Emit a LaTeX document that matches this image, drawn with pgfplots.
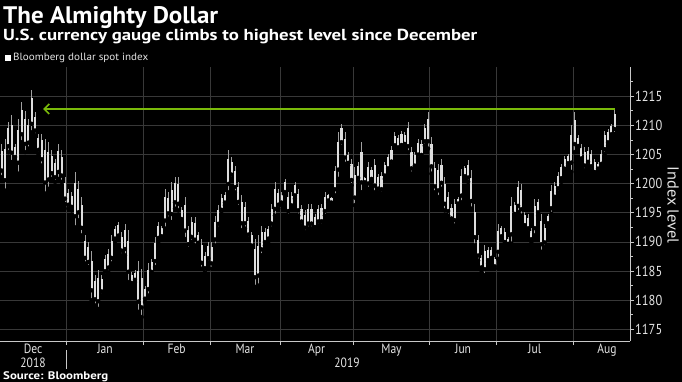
\documentclass[border=0pt]{standalone}
\usepackage{fontspec}
\setmainfont{PT Sans}[FakeStretch=0.86]
\usepackage{graphicx}
\usepackage{pgfplots}
\pgfplotsset{compat=1.18}
\usepackage{pgfplotstable}
\usetikzlibrary{arrows.meta}
\definecolor{bbgreen}{RGB}{122,186,10}
\definecolor{gridc}{RGB}{56,56,56}
\definecolor{axc}{RGB}{200,200,200}
\definecolor{txt}{RGB}{228,228,228}
\definecolor{bodyc}{RGB}{222,222,222}
\definecolor{wickc}{RGB}{160,160,160}

\pgfplotstableread{
t h l
1 1206.8 1201.1
2 1207.7 1198.8
3 1210.5 1205.4
4 1211.7 1203.7
5 1206.8 1204.0
6 1211.1 1201.7
7 1214.0 1207.1
8 1212.5 1205.4
9 1211.1 1206.0
10 1216.1 1208.8
11 1212.3 1208.3
12 1208.5 1205.1
13 1208.5 1203.1
14 1207.7 1198.3
15 1207.1 1199.1
16 1205.7 1200.8
17 1204.3 1200.3
18 1206.8 1200.8
19 1205.7 1200.3
20 1201.1 1196.5
21 1199.1 1195.7
22 1198.5 1195.4
23 1202.0 1192.5
24 1200.5 1193.7
25 1197.7 1191.1
26 1191.1 1186.3
27 1190.0 1185.7
28 1188.5 1180.0
29 1184.3 1179.1
30 1185.1 1178.5
31 1184.3 1180.8
32 1187.7 1184.3
33 1188.8 1184.8
34 1191.1 1186.3
35 1192.8 1190.0
36 1193.4 1190.5
37 1191.7 1187.7
38 1193.1 1187.7
39 1192.0 1183.1
40 1184.8 1182.5
41 1185.1 1183.1
42 1186.8 1178.0
43 1185.4 1177.1
44 1182.5 1179.7
45 1186.3 1180.8
46 1187.1 1184.3
47 1190.8 1185.7
48 1193.4 1190.0
49 1192.8 1190.5
50 1199.1 1192.3
51 1198.5 1194.0
52 1200.3 1193.4
53 1201.1 1195.7
54 1201.1 1195.4
55 1196.0 1193.4
56 1197.7 1190.5
57 1192.8 1188.8
58 1194.3 1190.0
59 1194.3 1189.4
60 1191.7 1189.4
61 1190.5 1185.4
62 1188.3 1184.8
63 1190.0 1186.5
64 1190.0 1185.4
65 1194.5 1189.4
66 1196.3 1192.3
67 1198.3 1194.8
68 1198.5 1196.3
69 1205.7 1198.5
70 1204.5 1200.8
71 1203.1 1198.5
72 1200.3 1196.0
73 1198.0 1192.0
74 1196.8 1192.3
75 1194.3 1190.5
76 1191.7 1188.8
77 1190.5 1182.3
78 1191.1 1182.5
79 1192.8 1187.7
80 1192.3 1189.4
81 1192.8 1190.0
82 1196.5 1192.3
83 1200.3 1194.5
84 1199.1 1195.7
85 1198.5 1196.3
86 1200.8 1198.0
87 1198.5 1194.5
88 1198.5 1195.7
89 1200.3 1197.4
90 1199.1 1194.5
91 1196.3 1192.8
92 1195.4 1191.7
93 1196.5 1192.3
94 1196.5 1192.3
95 1194.8 1192.0
96 1196.3 1192.8
97 1196.5 1192.8
98 1198.5 1194.5
99 1198.3 1196.8
100 1197.7 1196.5
101 1203.1 1198.0
102 1208.8 1200.8
103 1210.3 1206.3
104 1208.8 1203.4
105 1205.4 1203.1
106 1204.3 1199.7
107 1202.8 1196.3
108 1203.7 1200.3
109 1207.1 1198.5
110 1201.1 1200.0
111 1203.7 1199.1
112 1202.8 1200.3
113 1204.3 1198.5
114 1201.7 1198.5
115 1202.0 1198.3
116 1203.7 1200.8
117 1205.1 1202.0
118 1206.5 1203.1
119 1208.8 1206.0
120 1208.3 1205.7
121 1209.1 1206.0
122 1208.8 1206.3
123 1210.5 1205.4
124 1206.3 1201.7
125 1205.4 1202.5
126 1207.7 1204.3
127 1207.4 1204.3
128 1210.3 1206.5
129 1212.3 1206.0
130 1208.0 1201.7
131 1203.7 1198.5
132 1203.4 1197.7
133 1204.3 1199.1
134 1201.1 1195.4
135 1198.5 1194.5
136 1196.5 1193.4
137 1197.4 1192.8
138 1197.7 1196.3
139 1202.5 1196.8
140 1203.1 1200.8
141 1204.0 1200.3
142 1202.3 1195.7
143 1196.5 1189.4
144 1191.1 1186.8
145 1187.7 1185.1
146 1189.4 1184.3
147 1189.1 1186.3
148 1189.1 1186.8
149 1187.4 1185.4
150 1193.1 1187.1
151 1192.8 1190.5
152 1192.3 1189.4
153 1190.8 1189.4
154 1197.7 1189.7
155 1196.8 1194.3
156 1200.5 1195.1
157 1200.0 1194.5
158 1195.1 1192.3
159 1194.8 1191.7
160 1192.3 1190.0
161 1197.4 1191.1
162 1197.4 1194.5
163 1194.8 1188.3
164 1193.1 1189.1
165 1194.8 1192.8
166 1199.7 1194.8
167 1200.3 1197.1
168 1202.0 1198.5
169 1203.4 1200.3
170 1204.8 1202.0
171 1205.1 1203.1
172 1210.0 1202.0
173 1212.3 1205.4
174 1208.3 1206.0
175 1206.8 1203.7
176 1206.3 1202.3
177 1206.3 1203.1
178 1205.7 1202.3
179 1204.3 1201.4
180 1203.7 1202.3
181 1205.7 1202.8
182 1209.1 1205.1
183 1209.4 1206.5
184 1210.3 1208.0
185 1212.8 1208.5
}\bars

\begin{document}
\begin{tikzpicture}
\path[use as bounding box] (0,0) rectangle (682bp,382bp);
\fill[black] (0,0) rectangle (682bp,382bp);
\begin{axis}[
  at={(0,41bp)}, anchor=south west,
  scale only axis, width=630bp, height=274bp,
  xmin=0.48, xmax=189.6, ymin=1173, ymax=1220,
  axis x line*=bottom, axis y line*=right,
  axis line style={axc, line width=0.8bp},
  tick align=outside,
  tick style={axc, line width=0.7bp},
  major tick length=4bp, minor tick length=2.5bp,
  ytick={1175,1180,...,1215},
  minor ytick={1177.5,1182.5,...,1217.5},
  ymajorgrids, xmajorgrids,
  grid style={gridc, line width=0.7bp},
  xtick={20.5,43.5,63.5,84.5,106.5,129.5,149.5,172.5},
  xticklabels={},
  extra x ticks={10.4,32,53.5,74,95.5,118,139.5,161,182.7},
  extra x tick labels={Dec,Jan,Feb,Mar,Apr,May,Jun,Jul,Aug},
  extra x tick style={grid=none, major tick length=0pt,
     tick label style={anchor=base, yshift=-12bp}},
  xticklabel style={font=\fontsize{13.5}{14}\selectfont, text=txt},
  yticklabel style={font=\fontsize{14.5}{15}\selectfont, text=txt, anchor=west, inner sep=0pt, xshift=1bp},
  /pgf/number format/1000 sep={},
  /pgf/number format/assume math mode=true,
]
\addplot[only marks, mark=none, forget plot,
  error bars/.cd, y dir=plus, y explicit, error mark=none,
  error bar style={draw=wickc, line width=0.7bp}]
  table[x=t, y=l, y error expr=\thisrow{h}-\thisrow{l}] {\bars};
\addplot[only marks, mark=none, forget plot,
  error bars/.cd, y dir=plus, y explicit, error mark=none,
  error bar style={draw=bodyc, line width=2.1bp}]
  table[x=t, y expr=\thisrow{l}+0.2*(\thisrow{h}-\thisrow{l}), y error expr=0.6*(\thisrow{h}-\thisrow{l})] {\bars};
\addplot[bbgreen, line width=1.7bp, {Straight Barb[length=5bp,width=10bp,line width=1.7bp]}-]
  coordinates {(13.4,1212.8) (185.2,1212.8)};
\end{axis}
% titles and texts
\node[anchor=base west, inner sep=0, text=white] at (3bp,358bp)
  {\resizebox{215bp}{\height}{\bfseries\fontsize{24}{24}\selectfont The Almighty Dollar}};
\node[anchor=base west, inner sep=0, text=white] at (3bp,341bp)
  {\resizebox{474bp}{\height}{\bfseries\fontsize{16}{16}\selectfont U.S. currency gauge climbs to highest level since December}};
\fill[white] (5bp,321bp) rectangle (11bp,327bp);
\node[anchor=base west, inner sep=0, text=txt] at (13bp,321bp)
  {\resizebox{135bp}{\height}{\fontsize{10.5}{11}\selectfont Bloomberg dollar spot index}};
\node[anchor=base west, inner sep=0, text=white] at (3bp,3bp)
  {\resizebox{105bp}{\height}{\bfseries\fontsize{11}{11}\selectfont Source: Bloomberg}};
\node[anchor=base, inner sep=0, text=txt, font=\fontsize{13.5}{14}\selectfont] at (33bp,15bp) {2018};
\node[anchor=base, inner sep=0, text=txt, font=\fontsize{13.5}{14}\selectfont] at (347bp,15bp) {2019};
\draw[axc, line width=0.6bp] (66.5bp,32bp) -- (66.5bp,13bp);
\node[rotate=-90, inner sep=0, text=txt] at (673bp,177bp)
  {\resizebox{77bp}{\height}{\fontsize{16}{16}\selectfont Index level}};
\end{tikzpicture}
\end{document}
